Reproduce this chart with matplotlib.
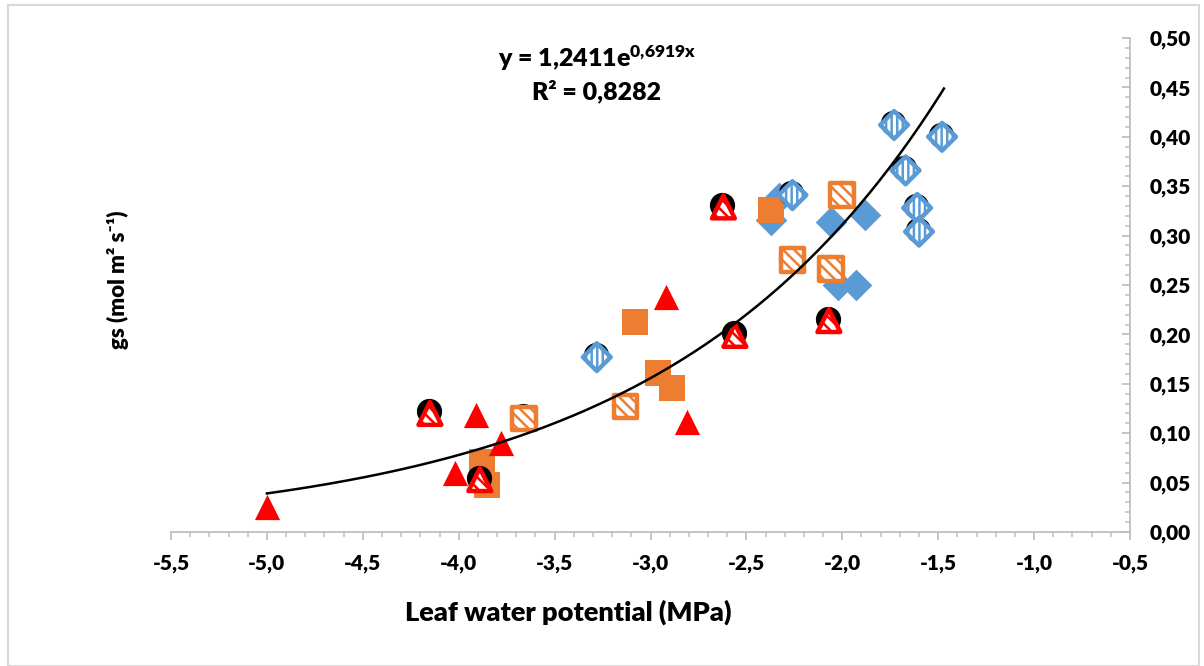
import numpy as np
import matplotlib
matplotlib.use("Agg")
import matplotlib.pyplot as plt
from matplotlib.ticker import MultipleLocator, FuncFormatter
from matplotlib.patches import Rectangle

plt.rcParams['font.family'] = ['Lato', 'DejaVu Sans']
plt.rcParams['font.weight'] = 'heavy'
plt.rcParams['mathtext.fontset'] = 'custom'
plt.rcParams['mathtext.rm'] = 'Lato:heavy'
plt.rcParams['mathtext.it'] = 'Lato:heavy'
plt.rcParams['mathtext.bf'] = 'Lato:heavy'
plt.rcParams['hatch.linewidth'] = 1.8

# solid series
red_x = [-5.00, -4.02, -3.91, -3.78, -2.92, -2.81]
red_y = [0.025, 0.060, 0.118, 0.090, 0.238, 0.111]
orange_x = [-3.08, -2.96, -2.89, -3.88, -3.85, -2.37]
orange_y = [0.213, 0.161, 0.146, 0.071, 0.048, 0.326]
blue_x = [-2.37, -2.33, -2.06, -1.88, -2.02, -1.93]
blue_y = [0.316, 0.338, 0.314, 0.321, 0.250, 0.250]

# hatched series (drawn over black circles)
red_h_x = [-4.15, -3.89, -2.62, -2.56, -2.07]
red_h_y = [0.120, 0.053, 0.329, 0.199, 0.214]
orange_h_x = [-3.66, -3.13, -2.00, -2.26, -2.06]
orange_h_y = [0.115, 0.127, 0.341, 0.275, 0.266]
blue_h_x = [-1.73, -1.48, -1.67, -1.61, -1.60, -2.26, -3.28]
blue_h_y = [0.412, 0.400, 0.366, 0.328, 0.304, 0.341, 0.177]

# fitted curve y = a*exp(b*x)
fit_a = 1.2411
fit_b = 0.6919
fit_x_range = (-5.0, -1.47)

RED = '#FF0000'
ORANGE = '#ED7D31'
BLUE = '#5B9BD5'
GREY = '#BFBFBF'

fig = plt.figure(figsize=(12.04, 6.66), dpi=100)
ax = fig.add_axes([171 / 1204, 1 - 532 / 666, (1130 - 171) / 1204, (532 - 38) / 666])

ax.scatter(blue_x, blue_y, marker='D', s=260, color=BLUE, linewidths=0, zorder=2)
ax.scatter(orange_x, orange_y, marker='s', s=330, color=ORANGE, linewidths=0, zorder=3)
ax.scatter(red_x, red_y, marker='^', s=330, color=RED, linewidths=0, zorder=4)

hx = red_h_x + orange_h_x + blue_h_x
hy = red_h_y + orange_h_y + blue_h_y
ax.scatter(np.array(hx) - 0.006, np.array(hy) + 0.002, marker='o', s=330,
           color='black', linewidths=0, zorder=5)

ax.scatter(blue_h_x, blue_h_y, marker='D', s=200, facecolor='white', edgecolor=BLUE,
           linewidths=3.2, hatch='|||', zorder=6)
ax.scatter(orange_h_x, orange_h_y, marker='s', s=290, facecolor='white', edgecolor=ORANGE,
           linewidths=3.2, hatch='\\\\\\', zorder=7)
ax.scatter(red_h_x, red_h_y, marker='^', s=270, facecolor='white', edgecolor=RED,
           linewidths=3.2, hatch='\\\\\\', zorder=8)

xs = np.linspace(fit_x_range[0], fit_x_range[1], 200)
ax.plot(xs, fit_a * np.exp(fit_b * xs), color='black', lw=1.8, zorder=10)

ax.set_xlim(-5.5, -0.5)
ax.set_ylim(0, 0.5)
ax.xaxis.set_major_locator(MultipleLocator(0.5))
ax.xaxis.set_minor_locator(MultipleLocator(0.1))
ax.yaxis.set_major_locator(MultipleLocator(0.05))
ax.yaxis.set_minor_locator(MultipleLocator(0.01))
ax.xaxis.set_major_formatter(FuncFormatter(lambda v, p: f"{v:.1f}".replace('.', ',')))
ax.yaxis.set_major_formatter(FuncFormatter(lambda v, p: f"{v:.2f}".replace('.', ',')))
ax.yaxis.tick_right()

for s in ['left', 'top']:
    ax.spines[s].set_visible(False)
for s in ['right', 'bottom']:
    ax.spines[s].set_color(GREY)
    ax.spines[s].set_linewidth(1.3)

ax.tick_params(axis='x', which='major', direction='out', length=6, width=1.3, color=GREY,
               labelsize=15, pad=10)
ax.tick_params(axis='x', which='minor', direction='out', length=3.5, width=1.1, color=GREY)
ax.tick_params(axis='y', which='major', direction='in', length=6, width=1.3, color=GREY,
               labelsize=15, pad=14)
ax.tick_params(axis='y', which='minor', direction='in', length=3.5, width=1.1, color=GREY)
for lab in ax.get_xticklabels() + ax.get_yticklabels():
    lab.set_fontweight('heavy')

fig.text(597 / 1204, 1 - 58 / 666, r"y = 1,2411e$^{\mathrm{0{,}6919x}}$", ha='center',
         va='center', fontsize=18, fontweight='heavy')
fig.text(597 / 1204, 1 - 91 / 666, "R² = 0,8282", ha='center', va='center',
         fontsize=18, fontweight='heavy')

fig.text(568 / 1204, 1 - 612 / 666, "Leaf water potential (MPa)", ha='center', va='center',
         fontsize=19.5, fontweight='heavy')
fig.text(118 / 1204, 1 - 280 / 666, "gs (mol m² s⁻¹)", ha='center', va='center',
         rotation=90, fontsize=16, fontweight='heavy')

fig.patches.append(Rectangle((8 / 1204, 0), 1191 / 1204, 1 - 5 / 666, transform=fig.transFigure,
                             fill=False, edgecolor='#D9D9D9', lw=1.5))

fig.savefig("out.png", dpi=100)
